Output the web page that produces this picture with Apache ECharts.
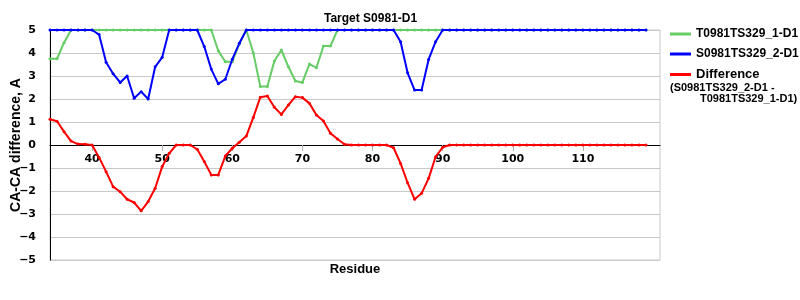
<!DOCTYPE html>
<html>
<head>
<meta charset="utf-8">
<script src="https://cdn.jsdelivr.net/npm/echarts@6/dist/echarts.min.js"></script>
<style>html,body{margin:0;padding:0;background:#fff}#c{width:800px;height:300px}</style>
</head>
<body>
<div id="c"></div>
<script>
const residues = [34,35,36,37,38,39,40,41,42,43,44,45,46,47,48,49,50,51,52,53,54,55,56,57,58,59,60,61,62,63,64,65,66,67,68,69,70,71,72,73,74,75,76,77,78,79,80,81,82,83,84,85,86,87,88,89,90,91,92,93,94,95,96,97,98,99,100,101,102,103,104,105,106,107,108,109,110,111,112,113,114,115,116,117,118,119,120,121];
const xTickLabels = [40,50,60,70,80,90,100,110];
const yTicks = [-5,-4,-3,-2,-1,0,1,2,3,4,5];
const model1Name = 'T0981TS329_1-D1';
const model2Name = 'S0981TS329_2-D1';
const diffName = 'Difference';
// residues 34..119
const model1 = [3.75,3.75,4.45,5,5,5,5,5,5,5,5,5,5,5,5,5,5,5,5,5,5,5,5,5,4.1,3.62,3.62,4.4,5,4.0,2.54,2.54,3.65,4.13,3.4,2.78,2.72,3.52,3.36,4.3,4.3,5,5,5,5,5,5,5,5,5,5,5,5,5,5,5,5,5,5,5,5,5,5,5,5,5,5,5,5,5,5,5,5,5,5,5,5,5,5,5,5,5,5,5,5,5];
const model2 = [5,5,5,5,5,5,5,4.8,3.6,3.1,2.72,3.0,2.03,2.32,2.0,3.4,3.81,5,5,5,5,5,4.28,3.3,2.66,2.86,3.73,4.42,5,5,5,5,5,5,5,5,5,5,5,5,5,5,5,5,5,5,5,5,5,5,4.49,3.14,2.39,2.39,3.72,4.49,5,5,5,5,5,5,5,5,5,5,5,5,5,5,5,5,5,5,5,5,5,5,5,5,5,5,5,5,5,5];
const difference = [1.12,1.03,0.58,0.17,0.04,0.03,0,-0.54,-1.16,-1.81,-2.03,-2.36,-2.5,-2.86,-2.46,-1.88,-0.94,-0.36,0,0,0,-0.19,-0.72,-1.3,-1.3,-0.48,-0.14,0.12,0.39,1.2,2.08,2.13,1.64,1.33,1.74,2.1,2.06,1.81,1.3,1.04,0.51,0.26,0.03,0,0,0,0,0,0,-0.12,-0.8,-1.64,-2.36,-2.1,-1.45,-0.51,-0.1,0,0,0,0,0,0,0,0,0,0,0,0,0,0,0,0,0,0,0,0,0,0,0,0,0,0,0,0,0];

const chart = echarts.init(document.getElementById('c'), null, {renderer:'canvas'});
const sans = 'Liberation Sans, Arial, sans-serif';
const tickFont = 'DejaVu Sans, Verdana, sans-serif';
const showTick = (i, v) => xTickLabels.indexOf(Number(v)) >= 0;
const lineSeries = (name, data, color, z) => ({
  name, type:'line', data, z,
  symbol:'circle', symbolSize:3, showSymbol:true,
  lineStyle:{color, width:2}, itemStyle:{color},
  emphasis:{disabled:true}, animation:false
});
chart.setOption({
  animation:false,
  title:{text:'Target S0981-D1', left:319, top:8,
    textStyle:{fontFamily:sans, fontWeight:'bold', fontSize:12, color:'#000'}},
  legend:{
    orient:'vertical', left:670, top:28, padding:0, icon:'rect', itemWidth:21, itemHeight:3, itemGap:8,
    data:[model1Name, model2Name, diffName],
    formatter:n => n === diffName ? '{d|' + n + '}' : n,
    textStyle:{fontFamily:sans, fontWeight:'bold', fontSize:12, color:'#000',
      rich:{d:{fontFamily:sans, fontWeight:'bold', fontSize:13, color:'#000'}}},
    selectedMode:false
  },
  graphic:[
    {type:'text', x:670, y:82, style:{text:'(S0981TS329_2-D1 -', font:'bold 11px Liberation Sans, Arial, sans-serif', fill:'#000'}},
    {type:'text', x:700, y:93, style:{text:'T0981TS329_1-D1)', font:'bold 11px Liberation Sans, Arial, sans-serif', fill:'#000'}},
    {type:'text', x:355, y:263, style:{text:'Residue', textAlign:'center', font:'bold 13px Liberation Sans, Arial, sans-serif', fill:'#000'}}
  ],
  grid:{left:50, right:140, top:30, bottom:40, containLabel:false, outerBoundsMode:'none',
    show:true, borderColor:'#c8c8c8', borderWidth:1, backgroundColor:'transparent'},
  xAxis:{
    type:'category', data:residues.map(String), boundaryGap:false,
    axisLine:{onZero:true, lineStyle:{color:'#000', width:1}},
    axisTick:{show:true, length:6, interval:showTick, lineStyle:{color:'#b0b0b0'}},
    axisLabel:{interval:showTick, margin:-106, fontFamily:tickFont, fontWeight:'bold', fontSize:11, color:'#000'},
    splitLine:{show:false}
  },
  yAxis:{
    type:'value', min:yTicks[0], max:yTicks[yTicks.length-1], interval:1,
    name:'CA-CA difference, A', nameLocation:'middle', nameGap:27, nameRotate:90, nameMoveOverlap:false,
    nameTextStyle:{fontFamily:sans, fontWeight:'bold', fontSize:14, color:'#000'},
    axisLine:{show:true, onZero:false, lineStyle:{color:'#000', width:1}},
    axisTick:{show:false},
    axisLabel:{margin:14, fontFamily:tickFont, fontWeight:'bold', fontSize:11, color:'#000',
      formatter:v=>v<0?'\u2212'+Math.abs(v):String(v)},
    splitLine:{show:true, lineStyle:{color:'#c8c8c8', width:1}}
  },
  series:[
    lineSeries(model1Name, model1, '#66cc66', 2),
    lineSeries(model2Name, model2, '#0000ff', 3),
    lineSeries(diffName, difference, '#ff0000', 4)
  ]
});
</script>
</body>
</html>
